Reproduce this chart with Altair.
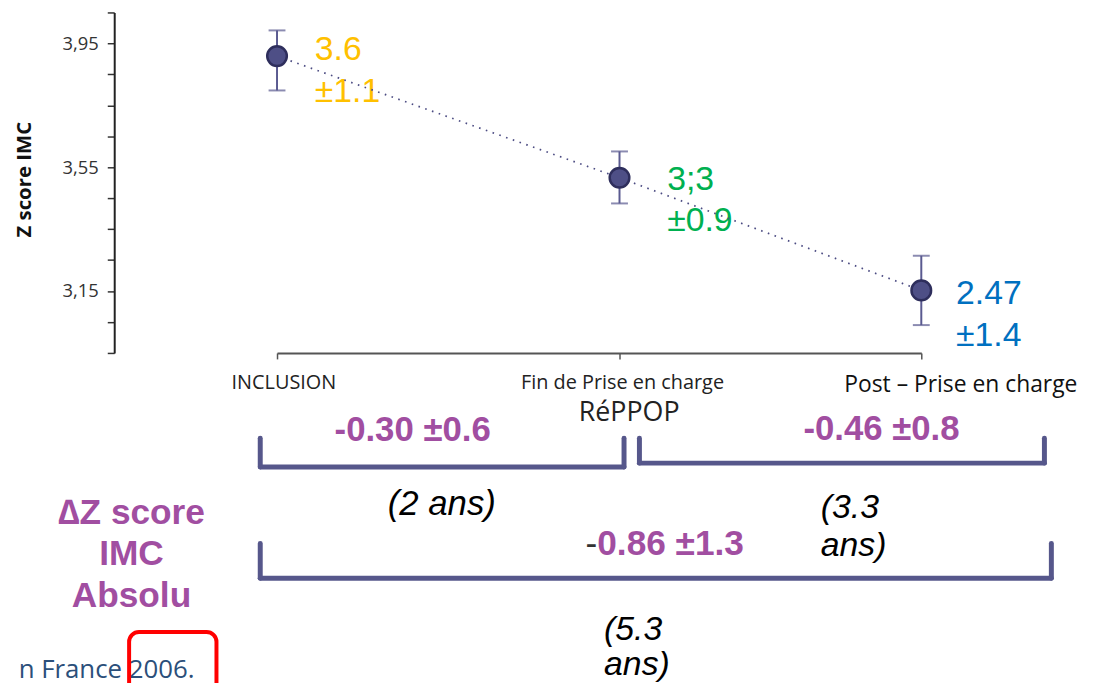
import altair as alt
import pandas as pd

# ---------------- data ----------------
visits = ["INCLUSION", "Fin de Prise en charge", "Post – Prise en charge"]
visit_idx = [0, 1, 2]
z_mean = [3.909, 3.516, 3.152]
z_low = [3.798, 3.433, 3.040]
z_high = [3.992, 3.601, 3.264]
mean_labels = ["3.6", "3;3", "2.47"]
sd_labels = ["±1.1", "±0.9", "±1.4"]
label_colors = ["#FFC000", "#00B050", "#0070C0"]

y_tick_values = [2.95, 3.05, 3.15, 3.25, 3.35, 3.45, 3.55, 3.65, 3.75, 3.85, 3.95, 4.05]
y_tick_labels = ["3,15", "3,55", "3,95"]
y_title = "Z score IMC"
x_sub_label = "RéPPOP"

delta_labels = ["-0.30 ±0.6", "-0.46 ±0.8", "0.86 ±1.3"]
delta_sign = "-"
duration_labels = ["(2 ans)", "(3.3\nans)", "(5.3\nans)"]
delta_title = "∆Z score\nIMC\nAbsolu"
footer_text = "n France 2006."

# brackets: from visit index to visit index
bracket_from = [-0.049, 1.066, -0.049]
bracket_to = [1.015, 2.408, 2.431]

# ---------------- styles / layout ----------------
ARIAL = "Liberation Sans"
SEGOE = "Open Sans"
PURPLE = "#A14EA1"
NAVY = "#56578B"

xscale = alt.Scale(domain=[0, 1, 2], range=[164, 509, 813], nice=False, zero=False)
yscale = alt.Scale(domain=[2.95, 4.05], nice=False, zero=False)

expr = "''"
for lab in reversed(y_tick_labels):
    key = lab.replace(",", ".")
    expr = f"format(datum.value, '.2f') == '{key}' ? '{lab}' : ({expr})"

xaxis = alt.Axis(values=visit_idx, labels=False, title=None, grid=False,
                 ticks=True, tickSize=6, tickColor="#555", tickWidth=1.5,
                 domainColor="#555", domainWidth=2)
yaxis = alt.Axis(values=y_tick_values, labelExpr=expr, grid=False,
                 labelFont=SEGOE, labelFontSize=18.5, labelColor="#333", labelPadding=9,
                 tickSize=7, tickColor="#333", tickWidth=1.5,
                 domainColor="#222", domainWidth=2,
                 title=y_title, titleFont=SEGOE, titleFontSize=20.5, titleFontWeight="bold",
                 titleColor="#111", titleAngle=270, titleX=-90, titleY=168,
                 titleAlign="center", titleBaseline="middle")


def X(field="idx"):
    return alt.X(f"{field}:Q", scale=xscale, axis=xaxis)


def Y(field):
    return alt.Y(f"{field}:Q", scale=yscale, axis=yaxis)


df = pd.DataFrame({
    "idx": visit_idx,
    "visit": visits,
    "mean": z_mean,
    "low": z_low,
    "high": z_high,
    "label": [m + "\n" + s for m, s in zip(mean_labels, sd_labels)],
    "color": label_colors,
})

base = alt.Chart(df)

# per-label offsets (pixels) of the value annotations
label_dx = [38, 48, 35]
label_dy = [4, 12, 14]
label_layers = []
for i in range(len(visit_idx)):
    label_layers.append(
        alt.Chart(df.iloc[[i]]).mark_text(
            align="left", baseline="alphabetic", dx=label_dx[i], dy=label_dy[i],
            font=ARIAL, fontSize=34, lineBreak="\n", lineHeight=42).encode(
            x=X(), y=Y("mean"), text="label:N", color=alt.Color("color:N", scale=None)))

line = base.mark_line(strokeDash=[1.6, 5.6], color="#4B4B82", strokeWidth=1.7).encode(
    x=X(), y=Y("mean"))

err = base.mark_rule(color="#5A5A90", strokeWidth=2).encode(
    x=X(), y=Y("low"), y2="high:Q")
cap_lo = base.mark_tick(orient="horizontal", size=17, thickness=2, color="#5A5A90").encode(
    x=X(), y=Y("low"))
cap_hi = base.mark_tick(orient="horizontal", size=17, thickness=2, color="#5A5A90").encode(
    x=X(), y=Y("high"))

pts = base.mark_circle(size=390, color="#4E4F86", stroke="#2E2E5C", strokeWidth=2.5,
                       opacity=1).encode(x=X(), y=Y("mean"))


def txt(text, xi, ypx, size, color="#000", font=ARIAL, weight="normal", style="normal",
        align="center", lh=None):
    props = dict(align=align, baseline="alphabetic", font=font, fontSize=size,
                 fontWeight=weight, fontStyle=style, color=color, lineBreak="\n")
    if lh is not None:
        props["lineHeight"] = lh
    return alt.Chart(pd.DataFrame({"idx": [xi], "t": [text]})).mark_text(**props).encode(
        x=X(), y=alt.value(ypx + 2), text="t:N")


# x category labels
xl1 = txt(visits[0], 0.02, 377, 20, "#222", SEGOE)
xl2 = txt(visits[1], 1.01, 377, 20, "#222", SEGOE)
xl2b = txt(x_sub_label, 1.032, 410, 27, "#222", SEGOE)
xl3 = txt(visits[2], 2.131, 380, 23, "#111", SEGOE)

# delta annotations
d1 = txt(delta_labels[0], 0.396, 430, 35, PURPLE, weight="bold")
d2 = txt(delta_labels[1], 1.868, 429, 35, PURPLE, weight="bold")
d3s = txt(delta_sign, 0.935, 545, 35.5, "#333", align="right")
d3 = txt(delta_labels[2], 0.935, 545, 35.5, PURPLE, weight="bold", align="left")

# durations
t1 = txt(duration_labels[0], 0.481, 504, 35, "#000", style="italic")
t2 = txt(duration_labels[1], 1.667, 507, 34, "#000", style="italic", align="left", lh=39)
t3 = txt(duration_labels[2], 0.955, 630, 34, "#000", style="italic", align="left", lh=35)

# left title
dz = txt(delta_title, -0.425, 513, 35.5, PURPLE, weight="bold", lh=42)

# footer
foot = txt(footer_text, -0.241, 668, 26, "#2B4F7A", SEGOE, align="right")

# brackets
bracket_y = [(429, 458), (429, 454), (535, 570)]
br_layers = []
for x0, x1, (ytop, ybot) in zip(bracket_from, bracket_to, bracket_y):
    bdf = pd.DataFrame({"idx": [x0], "x1": [x1]})
    bc = alt.Chart(bdf)
    rule_kw = dict(color=NAVY, strokeWidth=5, strokeCap="round")
    br_layers.append(bc.mark_rule(**rule_kw).encode(x=X(), x2="x1:Q", y=alt.value(ybot)))
    br_layers.append(bc.mark_rule(**rule_kw).encode(x=X(), y=alt.value(ytop), y2=alt.value(ybot)))
    br_layers.append(bc.mark_rule(**rule_kw).encode(x=X("x1"), y=alt.value(ytop), y2=alt.value(ybot)))

red_box = alt.Chart(pd.DataFrame({"k": [0]})).mark_rect(
    filled=False, stroke="#FF0000", strokeWidth=4, cornerRadius=10).encode(
    x=alt.value(15), x2=alt.value(103), y=alt.value(624), y2=alt.value(700))

chart = alt.layer(
    *label_layers, line, err, cap_lo, cap_hi, pts,
    xl1, xl2, xl2b, xl3,
    *br_layers,
    d1, d2, d3s, d3, t1, t2, t3, dz, foot, red_box,
).properties(
    width=985, height=343,
    autosize=alt.AutoSizeParams(type="none"),
    padding={"left": 107, "top": 2, "right": 5, "bottom": 330},
    background="white",
).configure_view(stroke=None)

chart.save("out.html", embed_options={"renderer": "svg", "actions": False})
